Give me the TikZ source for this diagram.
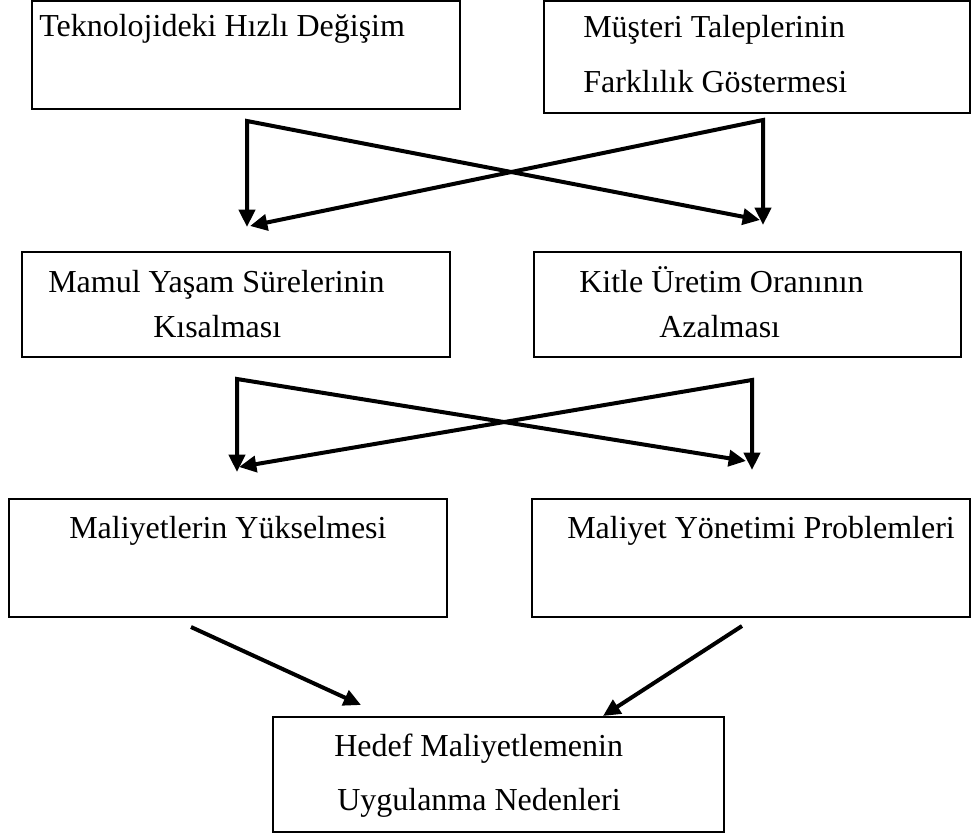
\documentclass[tikz,border=0pt]{standalone}
\usepackage{fontspec}
\setmainfont{Liberation Serif}
\usetikzlibrary{arrows.meta}
\tikzset{
  kutu/.style={draw, line width=1.1pt, inner sep=0pt, outer sep=0pt},
  yazi/.style={anchor=base west, inner sep=0pt, font=\fontsize{24}{28}\selectfont},
  ok/.style={line width=3pt, {Triangle[length=13pt,width=12pt]}-{Triangle[length=13pt,width=12pt]}},
  tekok/.style={line width=3pt, -{Triangle[length=13pt,width=12pt]}}
}
\begin{document}
\begin{tikzpicture}[x=0.75pt,y=-0.75pt]
\useasboundingbox (0,0) rectangle (972,838);
% boxes
\node[kutu, minimum width=321pt, minimum height=81pt] (tech) at (246,55) {};
\node[kutu, minimum width=319.5pt, minimum height=84pt] (cust) at (757,57) {};
\node[kutu, minimum width=321pt, minimum height=78.75pt] (life) at (236,304.5) {};
\node[kutu, minimum width=320.25pt, minimum height=78.75pt] (mass) at (747.5,304.5) {};
\node[kutu, minimum width=328.5pt, minimum height=88.5pt] (cost) at (228,558) {};
\node[kutu, minimum width=328.5pt, minimum height=88.5pt] (mgmt) at (751,558) {};
\node[kutu, minimum width=338.25pt, minimum height=86.25pt] (target) at (498.5,774.5) {};
% texts
\node[yazi] (techtxt) at (39,37) {Teknolojideki Hızlı Değişim};
\node[yazi] (custa) at (583,38) {Müşteri Taleplerinin};
\node[yazi] (custb) at (583,93) {Farklılık Göstermesi};
\node[yazi] (lifea) at (48,293) {Mamul Yaşam Sürelerinin};
\node[yazi] (lifeb) at (153,337) {Kısalması};
\node[yazi] (massa) at (579,293) {Kitle Üretim Oranının};
\node[yazi] (massb) at (659,337) {Azalması};
\node[yazi] (costtxt) at (69,538) {Maliyetlerin Yükselmesi};
\node[yazi] (mgmttxt) at (567,538) {Maliyet Yönetimi Problemleri};
\node[yazi] (targa) at (334,756) {Hedef Maliyetlemenin};
\node[yazi] (targb) at (337,810) {Uygulanma Nedenleri};
% arrow corners and ends
\coordinate (k1) at (247,121);
\coordinate (k1a) at (247,227);
\coordinate (k1b) at (760,220);
\coordinate (k2) at (763,120);
\coordinate (k2a) at (763,225);
\coordinate (k2b) at (250,226);
\coordinate (m1) at (237,379);
\coordinate (m1a) at (237,472);
\coordinate (m1b) at (746,461);
\coordinate (m2) at (752,380);
\coordinate (m2a) at (752,470);
\coordinate (m2b) at (239,467);
\coordinate (s1) at (191,627);
\coordinate (s1a) at (361,705);
\coordinate (s2) at (742,626);
\coordinate (s2a) at (603,716);
% arrows
\draw[ok] (k1a) -- (k1) -- (k1b);
\draw[ok] (k2a) -- (k2) -- (k2b);
\draw[ok] (m1a) -- (m1) -- (m1b);
\draw[ok] (m2a) -- (m2) -- (m2b);
\draw[tekok] (s1) -- (s1a);
\draw[tekok] (s2) -- (s2a);
\end{tikzpicture}
\end{document}
